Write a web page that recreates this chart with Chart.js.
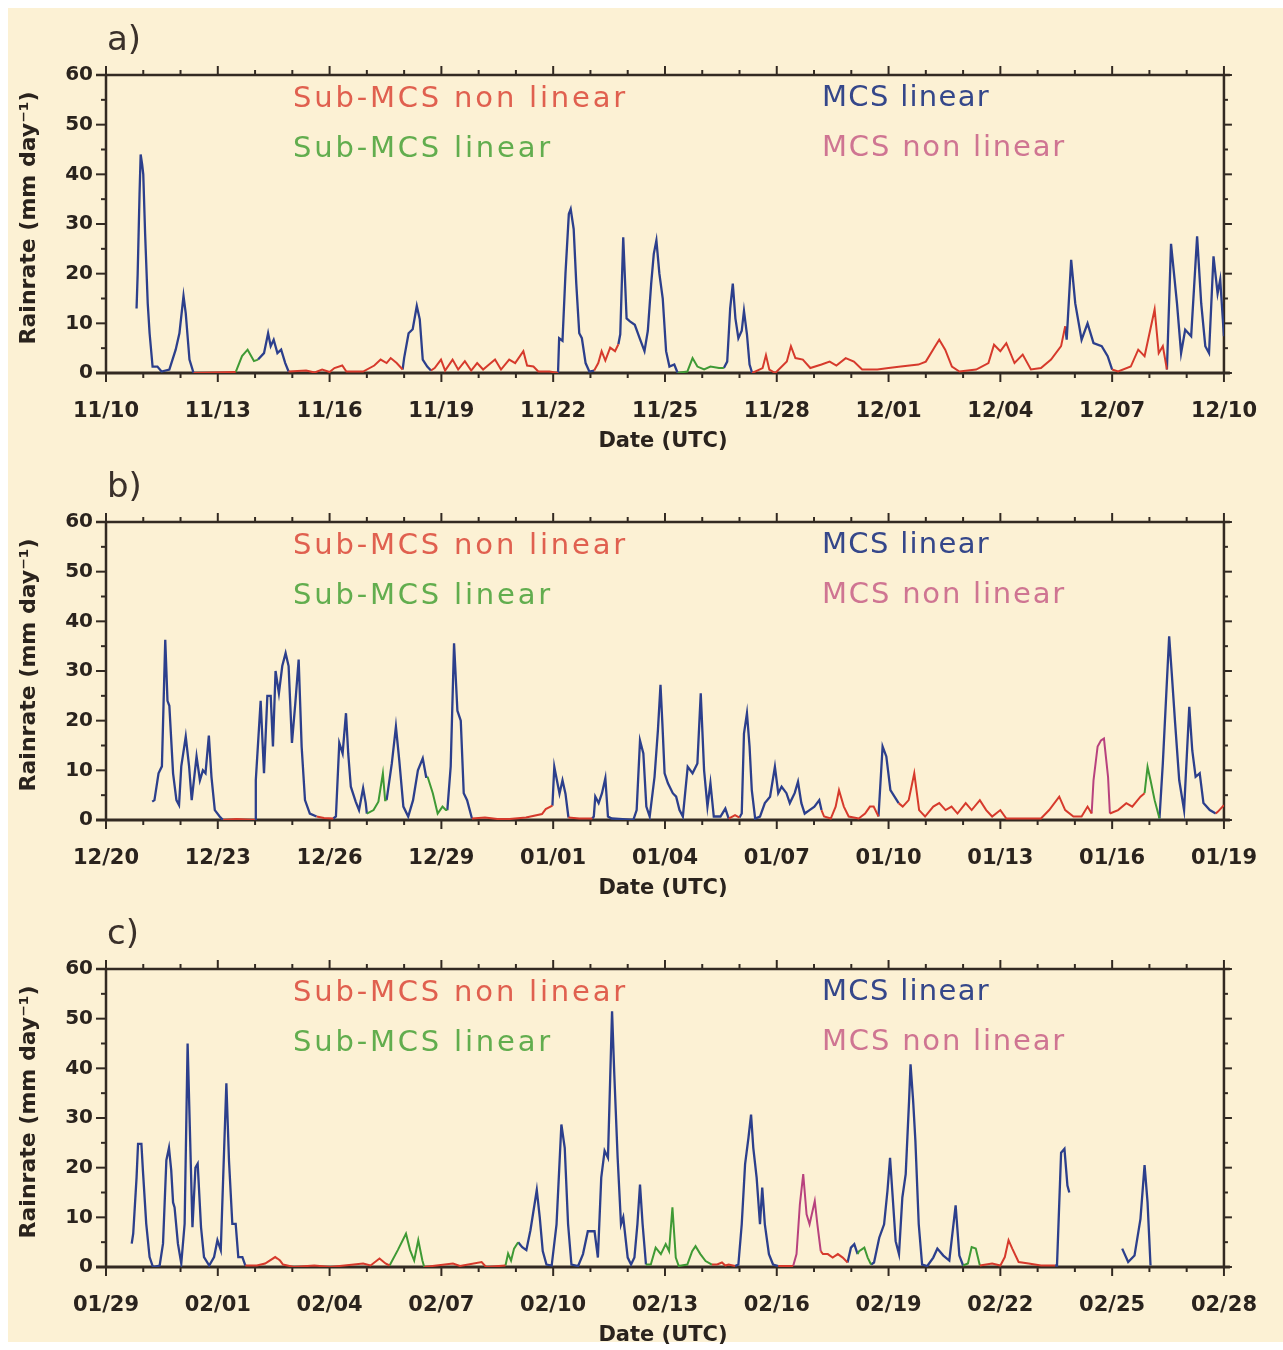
<!DOCTYPE html>
<html><head><meta charset="utf-8">
<script src="https://cdn.jsdelivr.net/npm/chart.js@4.4.0/dist/chart.umd.min.js"></script>
<style>
html,body{margin:0;padding:0;background:#ffffff;}
#page{position:relative;width:1283px;height:1350px;overflow:hidden;}
#cream{position:absolute;left:8px;top:8px;width:1275px;height:1334px;background:#fcf1d4;}
.pan{position:absolute;left:0;width:1283px;height:460px;}
</style></head><body>
<div id="page"><div id="cream"></div>
<div class="pan" style="top:0px"><canvas id="cA" width="1283" height="460"></canvas></div>
<div class="pan" style="top:447px"><canvas id="cB" width="1283" height="460"></canvas></div>
<div class="pan" style="top:894px"><canvas id="cC" width="1283" height="460"></canvas></div>
</div>
<script>
// ---------- tick labels ----------
const aTicks = ['11/10','11/13','11/16','11/19','11/22','11/25','11/28','12/01','12/04','12/07','12/10'];
const bTicks = ['12/20','12/23','12/26','12/29','01/01','01/04','01/07','01/10','01/13','01/16','01/19'];
const cTicks = ['01/29','02/01','02/04','02/07','02/10','02/13','02/16','02/19','02/22','02/25','02/28'];
const yTicks = [0,10,20,30,40,50,60];
const legendNames = ['Sub-MCS non linear','Sub-MCS linear','MCS linear','MCS non linear'];
const panelNames = ['a)','b)','c)'];

// ---------- data: runs of [day since first tick, rainrate mm/day] ----------
// Panel a)
const aMcsLinear = [
 [[0.82,13],[0.85,20],[0.9,36],[0.93,44],[0.97,42],[1.0,40],[1.05,28],[1.12,14],[1.17,8],[1.25,1.3],[1.38,1.3],[1.49,0.3],[1.7,0.7],[1.87,4.7],[1.97,8],[2.08,15.5],[2.14,12],[2.24,2.7],[2.35,0]],
 [[4.08,2.7],[4.24,4],[4.35,8],[4.42,5.4],[4.5,6.7],[4.6,4],[4.7,4.7],[4.81,2],[4.9,0.3]],
 [[7.96,0.7],[8.0,3],[8.12,8],[8.23,8.8],[8.34,13.5],[8.42,10.8],[8.5,2.7],[8.62,1.3],[8.72,0.5]],
 [[12.13,0],[12.16,7],[12.25,6.5],[12.33,20],[12.42,32],[12.47,33],[12.55,29],[12.62,18],[12.7,8],[12.77,7],[12.87,2],[12.97,0.3],[13.1,0.5]],
 [[13.75,5.8],[13.8,7.8],[13.88,27.3],[13.97,11],[14.06,10.4],[14.19,9.7],[14.32,7],[14.45,4.4],[14.54,8.5],[14.63,18],[14.7,24],[14.77,26.7],[14.85,20],[14.94,15],[15.03,4.4],[15.12,1.3],[15.25,1.7],[15.34,0]],
 [[16.58,1],[16.67,2.3],[16.75,13],[16.82,18],[16.89,11],[16.97,7],[17.06,8.5],[17.12,12.5],[17.2,7.8],[17.27,1.7],[17.34,0]],
 [[25.74,9.4],[25.78,6.7],[25.9,22.8],[26.01,14],[26.18,6.7],[26.34,10],[26.5,6],[26.72,5.4],[26.88,3.4],[27.0,0.7]],
 [[28.47,0.7],[28.58,26],[28.74,14],[28.85,4],[28.96,8.7],[29.12,7.4],[29.28,27.5],[29.39,14],[29.5,5.4],[29.6,4],[29.72,23.5],[29.83,16],[29.9,18.8],[30.0,7.4]]
];
const aSubNonLinear = [
 [[2.35,0],[3.48,0.2]],
 [[4.9,0.3],[5.37,0.5],[5.6,0.1],[5.8,0.7],[6.0,0.2],[6.13,1],[6.34,1.5],[6.45,0.3],[6.9,0.3],[7.2,1.5],[7.37,2.7],[7.53,2],[7.64,3],[7.8,2],[7.96,0.7]],
 [[8.72,0.5],[8.82,1],[8.99,2.7],[9.1,0.5],[9.3,2.7],[9.45,0.7],[9.63,2.4],[9.8,0.5],[9.96,2],[10.12,0.7],[10.28,1.7],[10.44,2.7],[10.6,0.7],[10.82,2.7],[10.98,2],[11.2,4.4],[11.3,1.5],[11.47,1.3],[11.6,0.3],[11.9,0.3],[12.13,0]],
 [[13.1,0.5],[13.21,2],[13.3,4.4],[13.4,2.5],[13.53,5.1],[13.66,4.4],[13.75,5.8]],
 [[17.34,0],[17.62,1],[17.71,3.6],[17.8,0.7],[17.96,0],[18.27,2.3],[18.38,5.4],[18.5,3],[18.7,2.7],[18.9,1],[19.2,1.7],[19.42,2.3],[19.6,1.5],[19.85,3],[20.07,2.3],[20.29,0.7],[20.7,0.7],[21.0,1],[21.33,1.3],[21.8,1.7],[22.0,2.3],[22.25,5.4],[22.36,6.7],[22.52,4.7],[22.7,1.3],[22.9,0.3],[23.35,0.7],[23.68,2],[23.83,5.7],[24.0,4.4],[24.16,6],[24.38,2],[24.6,3.7],[24.82,0.7],[25.09,1],[25.36,2.7],[25.63,5.4],[25.74,9.4]],
 [[27.0,0.7],[27.16,0.3],[27.5,1.3],[27.7,4.7],[27.87,3.4],[28.14,12.8],[28.25,4],[28.36,5.4],[28.47,0.7]]
];
const aSubLinear = [
 [[3.48,0.2],[3.65,3.4],[3.8,4.7],[3.97,2.4],[4.08,2.7]],
 [[15.34,0],[15.6,0.3],[15.74,3],[15.87,1.3],[16.05,0.7],[16.22,1.3],[16.45,1],[16.58,1]]
];
const aMcsNonLinear = [];

// Panel b)
const bMcsLinear = [
 [[1.24,3.7],[1.3,4],[1.41,9.4],[1.5,10.8],[1.59,36.3],[1.65,24],[1.7,23],[1.8,9.4],[1.89,4],[1.96,3],[2.02,10.8],[2.14,16.8],[2.23,10.8],[2.3,4],[2.43,12.8],[2.52,8],[2.6,10],[2.67,9.4],[2.76,17],[2.83,8.7],[2.92,2],[3.05,0.7],[3.14,0]],
 [[4.0,0],[4.02,8],[4.15,24],[4.24,9.4],[4.33,25],[4.42,25],[4.48,14.8],[4.55,30],[4.64,25.5],[4.73,31],[4.82,33.6],[4.9,31],[4.99,15.5],[5.08,23.5],[5.17,32.3],[5.25,14.8],[5.34,4],[5.47,1.3],[5.65,0.7]],
 [[6.1,0.3],[6.17,0.7],[6.26,15.5],[6.35,13.4],[6.44,21.5],[6.5,13.4],[6.57,6.7],[6.7,3.7],[6.79,2],[6.9,6.4],[6.97,3.4],[7.0,1.3]],
 [[7.53,4],[7.67,11.4],[7.78,18.8],[7.87,12],[7.98,2.7],[8.11,0.7],[8.24,4],[8.37,10],[8.5,12.4],[8.59,8.7],[8.63,8.7]],
 [[9.16,2],[9.25,10.8],[9.34,35.6],[9.43,22],[9.52,20],[9.6,5.4],[9.69,4],[9.82,0.3]],
 [[11.98,2.9],[12.03,10.7],[12.1,8],[12.17,5.3],[12.25,8],[12.33,5.3],[12.41,0.5]],
 [[13.05,0.3],[13.09,0.7],[13.13,4.7],[13.22,3.4],[13.31,5.4],[13.4,8.4],[13.47,0.7],[13.57,0.3],[14.15,0],[14.24,2],[14.33,16],[14.42,13.4],[14.5,2.7],[14.59,0.7],[14.72,8.7],[14.81,18],[14.88,27.2],[14.93,19.5],[14.99,9.4],[15.08,7.4],[15.21,5.4],[15.3,4.7],[15.39,2],[15.48,0.7],[15.61,10.7],[15.74,9.4],[15.87,11.4],[15.96,25.5],[16.05,10],[16.14,2.7],[16.22,7.4],[16.31,0.7],[16.49,0.7],[16.62,2.3],[16.71,0.3]],
 [[17.0,0.5],[17.06,1.3],[17.12,17.4],[17.2,21.5],[17.27,14.8],[17.33,6],[17.42,0.3],[17.55,0.7],[17.68,3.4],[17.82,4.7],[17.95,10.7],[18.04,5.4],[18.13,6.7],[18.26,5.4],[18.35,3.4],[18.48,5.4],[18.57,7.7],[18.66,3.4],[18.75,1.3],[18.88,2],[19.01,2.7],[19.14,4],[19.2,2]],
 [[20.73,0.7],[20.84,14.8],[20.94,12.8],[21.05,6],[21.16,4.7],[21.27,3.4]],
 [[28.27,0.3],[28.36,11.4],[28.45,25],[28.53,37],[28.6,29.5],[28.69,19.5],[28.8,8],[28.93,2],[29.07,22.8],[29.15,14],[29.24,8.7],[29.35,9.4],[29.45,3.4],[29.62,2],[29.78,1.3]]
];
const bSubNonLinear = [
 [[3.14,0],[3.5,0.2],[4.0,0]],
 [[5.65,0.7],[5.85,0.4],[6.1,0.3]],
 [[9.82,0.3],[10.17,0.5],[10.5,0.2],[10.83,0.2],[11.27,0.5],[11.7,1.2],[11.8,2.2],[11.98,2.9]],
 [[12.41,0.5],[12.7,0.3],[13.05,0.3]],
 [[16.71,0.3],[16.88,1],[17.0,0.5]],
 [[19.2,2],[19.27,0.7],[19.45,0.3],[19.58,2.7],[19.67,6],[19.8,2.7],[19.93,0.7],[20.2,0.3],[20.37,1.3],[20.5,2.7],[20.6,2.7],[20.73,0.7]],
 [[21.27,3.4],[21.38,2.7],[21.54,4],[21.69,9.4],[21.82,2],[21.98,0.7],[22.2,2.7],[22.36,3.4],[22.53,2],[22.69,2.7],[22.85,1.3],[23.07,3.4],[23.23,2],[23.45,4],[23.62,2],[23.78,0.7],[24.0,2],[24.16,0.3],[25.09,0.3],[25.31,2],[25.58,4.7],[25.74,2],[25.96,0.7],[26.18,0.7],[26.34,2.7],[26.45,1.3]],
 [[26.94,1.3],[27.16,2],[27.38,3.4],[27.54,2.7],[27.76,4.7],[27.87,5.4]],
 [[29.78,1.3],[29.84,1.7],[30.0,3]]
];
const bSubLinear = [
 [[7.0,1.3],[7.18,2],[7.31,3.7],[7.43,9.4],[7.49,4],[7.53,4]],
 [[8.63,8.7],[8.77,5.4],[8.9,1.3],[9.03,2.7],[9.12,2],[9.16,2]],
 [[27.87,5.4],[27.95,10.7],[28.03,8],[28.14,4],[28.27,0.3]]
];
const bMcsNonLinear = [
 [[26.45,1.3],[26.5,8],[26.61,14.8],[26.7,16],[26.78,16.4],[26.89,8.7],[26.94,1.3]]
];

// Panel c)
const cMcsLinear = [
 [[0.69,4.7],[0.73,6.7],[0.82,18],[0.86,24.8],[0.95,24.8],[0.99,19.5],[1.08,8.7],[1.17,2],[1.26,0],[1.44,0.3],[1.53,4.7],[1.62,21.5],[1.69,24],[1.75,19.5],[1.8,13],[1.84,12],[1.93,4.7],[2.02,0.7],[2.11,8.7],[2.19,45],[2.25,28],[2.32,8],[2.4,20],[2.46,20.8],[2.55,8],[2.63,2],[2.77,0.3],[2.9,2],[2.99,5.4],[3.08,3.4],[3.16,21.5],[3.23,37],[3.3,21.5],[3.39,8.7],[3.48,8.7],[3.55,2],[3.66,2],[3.74,0.3]],
 [[11.06,5],[11.17,4],[11.28,3.4],[11.39,7.4],[11.56,15.5],[11.64,10],[11.72,3.2],[11.82,0.5],[11.96,0.3],[12.09,8.6],[12.22,28.7],[12.31,24],[12.4,8.6],[12.49,0.5],[12.67,0.2],[12.8,2.6],[12.93,7.2],[13.11,7.2],[13.2,1.9],[13.29,18],[13.38,23.4],[13.47,22],[13.53,38],[13.58,51.5],[13.64,38.8],[13.73,22],[13.82,8.6],[13.88,10],[14.0,1.9],[14.09,0.5],[14.18,1.9],[14.26,8.6],[14.33,16.6],[14.4,8.6],[14.49,0.5]],
 [[16.88,0.2],[16.97,0.5],[17.06,8.6],[17.15,20.7],[17.24,26],[17.31,30.7],[17.37,24],[17.46,18],[17.55,8.6],[17.61,16],[17.68,8.6],[17.79,2.6],[17.9,0.5],[18.04,0.2]],
 [[19.9,0.9],[19.99,3.9],[20.08,4.6],[20.17,2.6]],
 [[20.53,0.5],[20.61,0.9],[20.75,5.9],[20.88,8.6],[20.97,15.3],[21.04,22],[21.1,15.3],[21.19,5.2],[21.28,2.6],[21.37,14],[21.46,18.7],[21.55,33.4],[21.59,40.8],[21.66,33.4],[21.72,25.4],[21.81,8.6],[21.9,0.5],[22.04,0.2],[22.2,1.9],[22.31,3.7],[22.47,2.3],[22.63,1.3],[22.8,12.4],[22.9,2.3],[23.0,0.3]],
 [[25.47,0.3],[25.52,0.3],[25.63,23],[25.72,23.8],[25.8,16.4],[25.85,15]],
 [[27.27,3.7],[27.43,1],[27.6,2.3],[27.76,9.7],[27.87,20.5],[27.95,13],[28.03,0.3]]
];
const cSubNonLinear = [
 [[3.74,0.3],[4.05,0.3],[4.27,0.7],[4.54,2],[4.6,1.7],[4.67,1.3],[4.75,0.5],[5.04,0],[5.59,0.3],[6.02,0],[6.9,0.7],[7.1,0.3],[7.34,1.7],[7.5,0.7],[7.61,0.3]],
 [[8.54,0],[9.31,0.7],[9.5,0.2],[10.08,1],[10.2,0],[10.72,0.3]],
 [[16.26,0.5],[16.4,0.5],[16.53,0.9],[16.62,0.3],[16.71,0.5],[16.88,0.2]],
 [[18.04,0.2],[18.44,0.2]],
 [[19.18,3.2],[19.24,2.6],[19.37,2.6],[19.5,1.9],[19.64,2.6],[19.77,1.9],[19.9,0.9]],
 [[23.45,0.3],[23.78,0.7],[24.0,0.3],[24.12,2],[24.22,5.4],[24.32,3.7],[24.49,1],[24.76,0.7],[25.09,0.3],[25.47,0.3]]
];
const cSubLinear = [
 [[7.61,0.3],[7.83,3.4],[8.05,6.7],[8.16,3.4],[8.27,1.3],[8.38,5.4],[8.49,1.3],[8.54,0]],
 [[10.72,0.3],[10.79,2.7],[10.87,1.3],[10.95,3.7],[11.06,5]],
 [[14.49,0.5],[14.62,0.5],[14.75,3.9],[14.89,2.6],[15.02,4.6],[15.11,3.2],[15.2,12],[15.29,1.9],[15.37,0.2],[15.6,0.5],[15.73,3.2],[15.82,4.2],[15.95,2.6],[16.09,1.2],[16.26,0.5]],
 [[20.17,2.6],[20.21,3.2],[20.35,3.9],[20.44,1.9],[20.53,0.5]],
 [[23.0,0.3],[23.13,0.7],[23.23,4],[23.34,3.7],[23.45,0.3]]
];
const cMcsNonLinear = [
 [[18.44,0.2],[18.53,2.6],[18.62,12.6],[18.71,18.7],[18.8,10.6],[18.88,8.6],[19.02,13.3],[19.09,8.6],[19.18,3.2]]
];

// ---------- styles ----------
const LINE_RED = '#d63a2c', LINE_GREEN = '#3f9a35', LINE_BLUE = '#2c3f8c', LINE_MAG = '#b8427e';
const LEG_COLORS = ['#e0604f', '#62ad4e', '#35478a', '#cf7592'];
const FRAME = '#332a22', TEXT = '#2a231d';
const FONT = '"DejaVu Sans", sans-serif';

function toPts(runs) {
  const out = [];
  runs.forEach((run, i) => {
    if (i > 0) {
      const prev = runs[i - 1];
      out.push({x: (prev[prev.length - 1][0] + run[0][0]) / 2, y: null});
    }
    run.forEach(p => out.push({x: p[0], y: p[1]}));
  });
  return out;
}

const framePlugin = {
  id: 'frame',
  beforeDatasetsDraw(chart) {
    const {ctx, chartArea, scales} = chart;
    const {left, right, top, bottom} = chartArea;
    const x = scales.x, y = scales.y;
    ctx.save();
    ctx.strokeStyle = FRAME;
    ctx.lineCap = 'butt';
    const ln = (x1, y1, x2, y2) => { ctx.beginPath(); ctx.moveTo(x1, y1); ctx.lineTo(x2, y2); ctx.stroke(); };
    ctx.lineWidth = 2;
    for (let d = 0; d <= 30; d++) {
      const px = x.getPixelForValue(d), major = d % 3 === 0;
      ln(px, bottom, px, bottom + (major ? 9 : 5));
      ln(px, top, px, top - (major ? 9 : 5));
    }
    for (let v = 0; v <= 60; v += 5) {
      const py = y.getPixelForValue(v), major = v % 10 === 0;
      ln(left, py, left - (major ? 10 : 5), py);
      ln(right, py, right + (major ? 8 : 4), py);
    }
    ctx.lineWidth = 2.5;
    ln(left - 10, top, right + 6, top);
    ln(left, top - 1, left, bottom + 1);
    ln(right, top - 1, right, bottom + 1);
    ctx.lineWidth = 3;
    ln(left - 10, bottom, right + 6, bottom);
    ctx.restore();
  }
};

function spacedText(ctx, text, x, yc, target) {
  ctx.letterSpacing = '0px';
  const w = ctx.measureText(text).width;
  const sp = Math.max(0, (target - w) / text.length);
  ctx.letterSpacing = sp.toFixed(2) + 'px';
  ctx.fillText(text, x, yc);
  ctx.letterSpacing = '0px';
}

const textPlugin = {
  id: 'texts',
  afterDraw(chart) {
    const {ctx, chartArea} = chart;
    const {left, right, top, bottom} = chartArea;
    const idx = chart.options.plugins.texts.panel;
    ctx.save();
    ctx.textBaseline = 'middle';
    ctx.textAlign = 'left';
    // panel label
    ctx.fillStyle = '#3a302a';
    ctx.font = '34px ' + FONT;
    ctx.fillText(panelNames[idx], left + 1, top - 34);
    // legend
    ctx.font = '29px ' + FONT;
    const legendPos = [[293, 24, 335], [293, 74, 260], [822, 23, 168], [822, 73, 244]];
    legendNames.forEach((name, i) => {
      ctx.fillStyle = LEG_COLORS[i];
      spacedText(ctx, name, legendPos[i][0], top + legendPos[i][1], legendPos[i][2]);
    });
    // x title
    ctx.fillStyle = TEXT;
    ctx.font = 'bold 21px ' + FONT;
    ctx.textAlign = 'center';
    ctx.fillText('Date (UTC)', (left + right) / 2 - 2, bottom + 69);
    // y title
    ctx.font = 'bold 22px ' + FONT;
    ctx.translate(29, (top + bottom) / 2 - 6);
    ctx.rotate(-Math.PI / 2);
    ctx.fillText('Rainrate (mm day\u207B\u00B9)', 0, 0);
    ctx.restore();
  }
};

function makeChart(id, idx, ticks, subNon, subLin, mcsLin, mcsNon) {
  const ds = (runs, color, w) => ({
    data: toPts(runs), borderColor: color, backgroundColor: color,
    borderWidth: w, pointRadius: 0, tension: 0, spanGaps: false, fill: false
  });
  new Chart(document.getElementById(id), {
    type: 'line',
    data: {datasets: [ds(subNon, LINE_RED, 2), ds(subLin, LINE_GREEN, 2), ds(mcsNon, LINE_MAG, 2), ds(mcsLin, LINE_BLUE, 2.3)]},
    plugins: [framePlugin, textPlugin],
    options: {
      responsive: false, animation: false, devicePixelRatio: 1,
      layout: {padding: {left: 0, right: 46, top: 75, bottom: 0}},
      plugins: {legend: {display: false}, tooltip: {enabled: false}, texts: {panel: idx}},
      scales: {
        x: {
          type: 'linear', min: 0, max: 30,
          afterBuildTicks: s => { s.ticks = ticks.map((_, i) => ({value: i * 3})); },
          afterFit: s => { s.height = 87; },
          ticks: {callback: (v, i) => ticks[i], autoSkip: false, maxRotation: 0, minRotation: 0,
                  padding: 26, color: TEXT, font: {family: FONT, size: 21, weight: 'bold'}},
          grid: {display: false, drawTicks: false}, border: {display: false}
        },
        y: {
          min: 0, max: 60,
          afterBuildTicks: s => { s.ticks = yTicks.map(v => ({value: v})); },
          afterFit: s => { s.width = 106; },
          ticks: {padding: 13, color: TEXT, font: {family: FONT, size: 20, weight: 'bold'}},
          grid: {display: false, drawTicks: false}, border: {display: false}
        }
      }
    }
  });
}

makeChart('cA', 0, aTicks, aSubNonLinear, aSubLinear, aMcsLinear, aMcsNonLinear);
makeChart('cB', 1, bTicks, bSubNonLinear, bSubLinear, bMcsLinear, bMcsNonLinear);
makeChart('cC', 2, cTicks, cSubNonLinear, cSubLinear, cMcsLinear, cMcsNonLinear);
</script>
</body></html>
